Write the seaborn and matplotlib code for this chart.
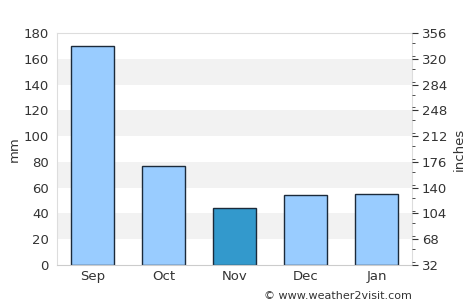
import matplotlib
matplotlib.use("Agg")
import matplotlib.pyplot as plt
import seaborn as sns
import pandas as pd
from matplotlib.ticker import MultipleLocator

months = ["Sep", "Oct", "Nov", "Dec", "Jan"]
rain_mm = [170, 77, 44, 54, 55]
bar_colors = ["#99ccff", "#99ccff", "#3399cc", "#99ccff", "#99ccff"]
right_ticks = [32, 68, 104, 140, 176, 212, 248, 284, 320, 356]

sns.set_style("white")
plt.rcParams['font.family'] = ['DejaVu Sans']

fig = plt.figure(figsize=(4.74, 3.08), dpi=100)
ax = fig.add_axes([57/474, 1-265/308, (412-57)/474, (265-33)/308])

for lo in [20, 60, 100, 140]:
    ax.axhspan(lo, lo + 20, color="#f2f2f2", zorder=0, lw=0)

df = pd.DataFrame({"month": months, "mm": rain_mm})
sns.barplot(data=df, x="month", y="mm", hue="month", palette=bar_colors,
            saturation=1, legend=False, width=0.6, edgecolor="#1b2a3a",
            linewidth=1.0, ax=ax, zorder=2)

ax.set_ylim(0, 180)
ax.set_xlim(-0.5, 4.5)
ax.yaxis.set_major_locator(MultipleLocator(20))
ax.set_xlabel("")
ax.set_ylabel("mm", color="#333333", fontsize=9.5, labelpad=2)
ax.tick_params(axis="both", colors="#333333", labelsize=9.5, length=0)
ax.tick_params(axis="y", pad=6)
for s in ax.spines.values():
    s.set_color("#dddddd")
    s.set_linewidth(0.8)
ax.spines["bottom"].set_color("#cccccc")

ax2 = ax.twinx()
ax2.set_ylim(32, 356)
ax2.set_yticks(right_ticks)
ax2.yaxis.set_minor_locator(MultipleLocator(18))
ax2.tick_params(axis="y", which="major", direction="out", length=4, color="#333333",
                labelcolor="#333333", labelsize=9.5, pad=3)
ax2.tick_params(axis="y", which="minor", direction="out", length=2, color="#333333")
ax2.set_ylabel("inches", color="#333333", fontsize=9.5, labelpad=4)
for s in ax2.spines.values():
    s.set_visible(False)

fig.text(412/474, 1-296/308, "© www.weather2visit.com", ha="right", va="center",
         fontsize=8, color="#333333")

fig.savefig("out.png", dpi=100)
